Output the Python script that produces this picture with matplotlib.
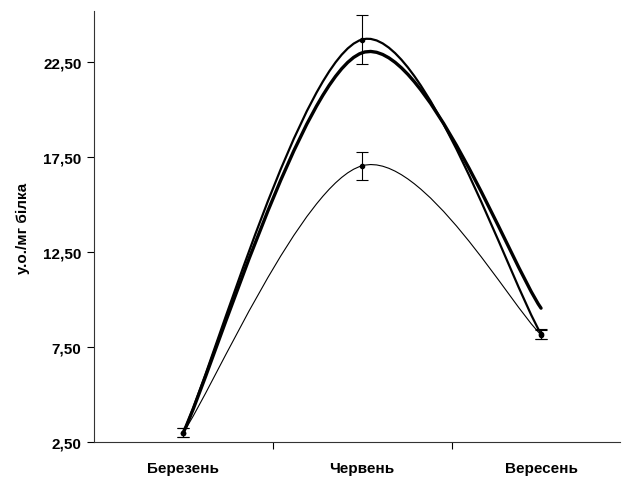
import matplotlib
matplotlib.use("Agg")
import matplotlib.pyplot as plt
from matplotlib.path import Path
from matplotlib.patches import PathPatch
from matplotlib.ticker import FixedLocator, FuncFormatter
import numpy as np

categories = ["Березень", "Червень", "Вересень"]
series_a = [3.0, 23.7, 8.2]
err_a = [0.25, 1.3, 0.25]
series_b = [3.0, 23.0, 9.55]
series_c = [3.0, 17.05, 8.15]
err_c = [0.25, 0.75, 0.25]
y_ticks = [2.5, 7.5, 12.5, 17.5, 22.5]
y_label = "у.о./мг білка"

plt.rcParams['font.family'] = ['Liberation Sans', 'DejaVu Sans']

fig = plt.figure(figsize=(6.26, 4.81), dpi=100)
ax = fig.add_axes([0.150, 0.079, 0.840, 0.896])


def smooth_path(xs, ys):
    pts = list(zip(xs, ys))
    n = len(pts)
    verts = [pts[0]]
    codes = [Path.MOVETO]
    for i in range(n - 1):
        p0 = np.array(pts[i - 1] if i > 0 else pts[i])
        p1 = np.array(pts[i])
        p2 = np.array(pts[i + 1])
        p3 = np.array(pts[i + 2] if i + 2 < n else pts[i + 1])
        c1 = p1 + (p2 - p0) / 6.0
        c2 = p2 - (p3 - p1) / 6.0
        verts += [tuple(c1), tuple(c2), tuple(p2)]
        codes += [Path.CURVE4] * 3
    return Path(verts, codes)


x = np.arange(len(categories))
for ys, lw in [(series_c, 0.8), (series_a, 1.6), (series_b, 2.4)]:
    patch = PathPatch(smooth_path(x, ys), facecolor='none', edgecolor='black',
                      linewidth=lw, capstyle='round', joinstyle='round')
    ax.add_patch(patch)

ax.errorbar(x, series_a, yerr=err_a, fmt='o', color='black', markersize=3,
            elinewidth=0.8, capsize=4, capthick=0.8)
ax.errorbar(x, series_c, yerr=err_c, fmt='o', color='black', markersize=3,
            elinewidth=0.8, capsize=4, capthick=0.8)

ax.set_xlim(-0.5, 2.44)
ax.set_ylim(2.5, 25.2)

ax.set_xticks(x)
ax.set_xticklabels(categories, fontsize=11, fontweight='bold')
ax.tick_params(axis='x', which='major', length=0, pad=14)
ax.xaxis.set_minor_locator(FixedLocator([0.5, 1.5]))
ax.tick_params(axis='x', which='minor', length=5, width=0.8, direction='out')

ax.yaxis.set_major_locator(FixedLocator(y_ticks))
ax.yaxis.set_major_formatter(FuncFormatter(lambda v, p: f"{v:.2f}".replace('.', ',')))
ax.tick_params(axis='y', length=5, width=0.8, direction='out', labelsize=11, pad=4)
for lab in ax.get_yticklabels():
    lab.set_fontweight('bold')

ax.set_ylabel(y_label, fontsize=11, fontweight='bold')
ax.yaxis.set_label_coords(-0.121, 0.497)

for s in ['top', 'right']:
    ax.spines[s].set_visible(False)
ax.spines['left'].set_linewidth(0.8)
ax.spines['bottom'].set_linewidth(0.8)
ax.spines['left'].set_color('#333333')
ax.spines['bottom'].set_color('#333333')

fig.savefig("out.png", dpi=100)
